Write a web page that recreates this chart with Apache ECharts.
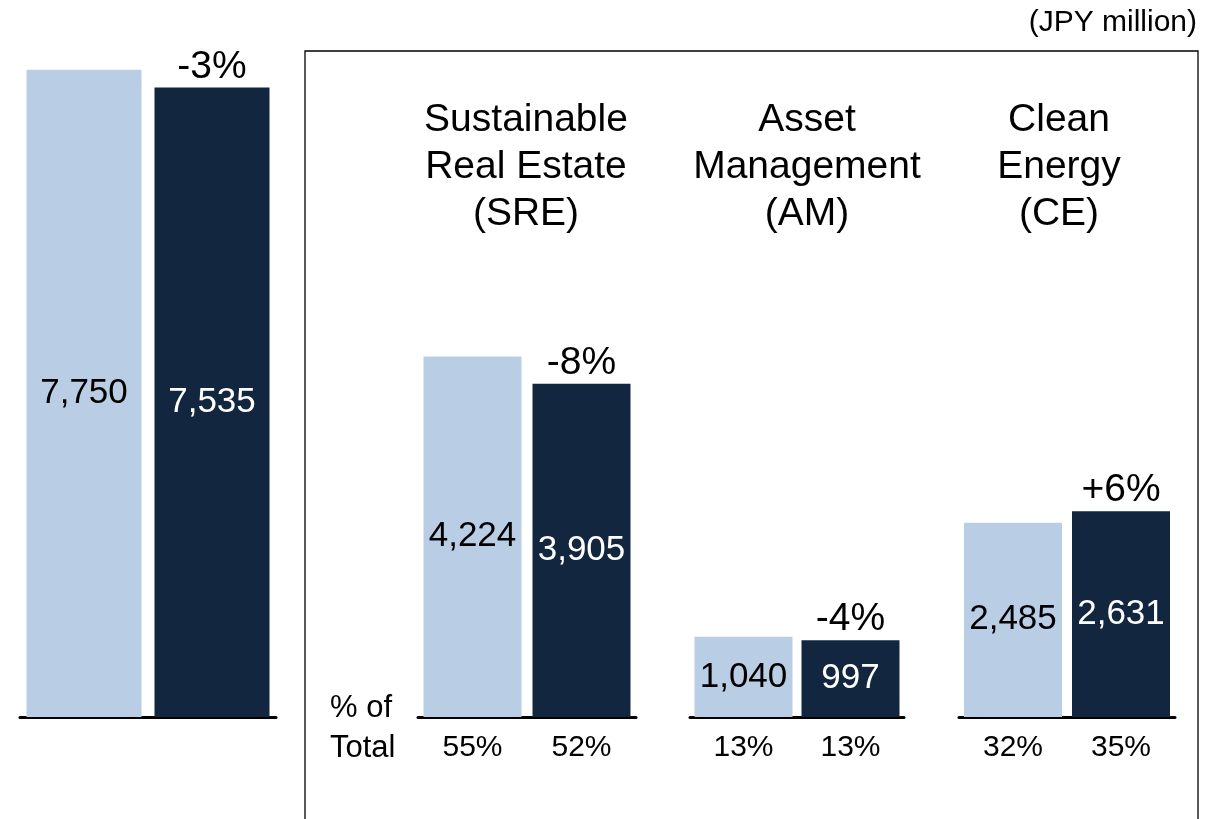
<!DOCTYPE html>
<html>
<head>
<meta charset="utf-8">
<script src="https://cdn.jsdelivr.net/npm/echarts@6/dist/echarts.min.js"></script>
<style>
  html, body { margin: 0; padding: 0; background: #fff; }
  #chart { width: 1213px; height: 819px; }
</style>
</head>
<body>
<div id="chart"></div>
<script>
// values in JPY million: [total, SRE, AM, CE]
const previous = [7750, 4224, 1040, 2485];
const current = [7535, 3905, 997, 2631];
const changeLabels = ["-3%", "-8%", "-4%", "+6%"];
const segmentNames = ["Sustainable\nReal Estate\n(SRE)", "Asset\nManagement\n(AM)", "Clean\nEnergy\n(CE)"];
const sharePrev = ["55%", "13%", "32%"];
const shareCurr = ["52%", "13%", "35%"];

const LIGHT = "#B9CDE4";
const DARK = "#12263F";
const FONT = "Liberation Sans, Arial, sans-serif";

// one panel per group: total on the left, then the three segments in the box
const panels = [
  { left: 20, width: 256, barWidth: 115, max: 8380 },
  { left: 418, width: 218, barWidth: 98, max: 8200 },
  { left: 690, width: 214, barWidth: 98, max: 9080 },
  { left: 959, width: 216, barWidth: 98, max: 8950 },
];
const titleX = [526, 807, 1059];

const grids = [], xAxes = [], yAxes = [], series = [];
panels.forEach((p, i) => {
  grids.push({ left: p.left, width: p.width, top: 17, bottom: 102 });
  xAxes.push({
    type: "category",
    gridIndex: i,
    data: i === 0 ? ["", ""] : [sharePrev[i - 1], shareCurr[i - 1]],
    axisLine: { lineStyle: { color: "#000", width: 3 } },
    axisTick: { show: false },
    axisLabel: { show: i > 0, color: "#000", fontSize: 30, fontFamily: FONT, margin: 16 },
  });
  yAxes.push({ type: "value", gridIndex: i, min: 0, max: p.max, show: false, splitLine: { show: false } });
  series.push({
    type: "bar",
    xAxisIndex: i,
    yAxisIndex: i,
    barWidth: p.barWidth,
    data: [
      { value: previous[i], itemStyle: { color: LIGHT }, label: { color: "#000" } },
      { value: current[i], itemStyle: { color: DARK }, label: { color: "#fff" } },
    ],
    label: {
      show: true,
      position: "inside",
      fontSize: 35,
      fontFamily: FONT,
      formatter: (d) => d.value.toLocaleString("en-US"),
    },
  });
  // transparent overlay that only carries the change label
  series.push({
    type: "bar",
    xAxisIndex: i,
    yAxisIndex: i,
    barWidth: p.barWidth,
    barGap: "-100%",
    silent: true,
    itemStyle: { color: "transparent" },
    data: ["-", current[i]],
    label: {
      show: true,
      position: "top",
      distance: 1,
      color: "#000",
      fontSize: 39,
      fontFamily: FONT,
      formatter: () => changeLabels[i],
    },
  });
});

const graphic = [
  {
    type: "rect",
    shape: { x: 305, y: 51, width: 893, height: 800 },
    style: { fill: "none", stroke: "#000", lineWidth: 1.3 },
  },
  {
    type: "text",
    x: 1197,
    y: 23,
    style: { text: "(JPY million)", fontSize: 30, fontFamily: FONT, fill: "#000", textAlign: "right", textVerticalAlign: "middle" },
  },
  {
    type: "text",
    x: 330,
    y: 688,
    style: { text: "% of\nTotal", fontSize: 31, lineHeight: 40, fontFamily: FONT, fill: "#000", textAlign: "left", textVerticalAlign: "top" },
  },
];
segmentNames.forEach((name, i) => {
  graphic.push({
    type: "text",
    x: titleX[i],
    y: 97,
    style: { text: name, fontSize: 39, lineHeight: 47, fontFamily: FONT, fill: "#000", textAlign: "center", textVerticalAlign: "top" },
  });
});

const myChart = echarts.init(document.getElementById("chart"));
myChart.setOption({
  animation: false,
  backgroundColor: "#fff",
  grid: grids,
  xAxis: xAxes,
  yAxis: yAxes,
  series: series,
  graphic: graphic,
});
</script>
</body>
</html>
